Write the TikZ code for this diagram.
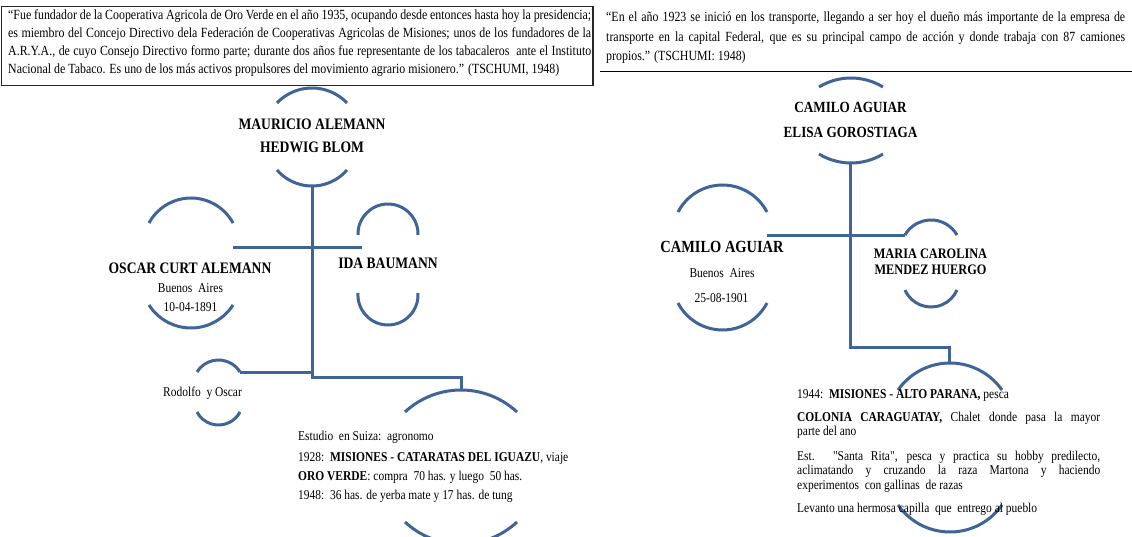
\documentclass[tikz,border=0pt]{standalone}
\usepackage{fontspec}
\setmainfont{Liberation Serif}[FakeStretch=0.85]
\definecolor{treeblue}{RGB}{62,100,152}
\tikzset{
  tree/.style={draw=treeblue, line width=3pt},
  arcline/.style={draw=treeblue, line width=3pt},
  boxline/.style={draw=black!85, line width=1.3pt},
  qt/.style={anchor=base west, inner sep=0pt, font=\fontsize{14}{16}\selectfont},
  bt/.style={anchor=base west, inner sep=0pt, font=\fontsize{13.5}{15}\selectfont},
  sm/.style={anchor=base, inner sep=0pt, font=\fontsize{13.5}{15}\selectfont},
  nm/.style={anchor=base, inner sep=0pt, font=\bfseries\fontsize{16}{18}\selectfont},
}
\newcommand{\rkup}[4]{%
  \pgfmathsetmacro{\rkw}{(#2-#1)/2}%
  \pgfmathsetmacro{\rkh}{#3-#4}%
  \pgfmathsetmacro{\rkr}{(\rkw*\rkw+\rkh*\rkh)/(2*\rkh)}%
  \pgfmathsetmacro{\rka}{2*atan(\rkh/\rkw)}%
  \draw[arcline] (#1,#3) arc[start angle={270-\rka}, end angle={270+\rka}, radius=\rkr];}
\newcommand{\rkdown}[4]{%
  \pgfmathsetmacro{\rkw}{(#2-#1)/2}%
  \pgfmathsetmacro{\rkh}{#4-#3}%
  \pgfmathsetmacro{\rkr}{(\rkw*\rkw+\rkh*\rkh)/(2*\rkh)}%
  \pgfmathsetmacro{\rka}{2*atan(\rkh/\rkw)}%
  \draw[arcline] (#1,#3) arc[start angle={90+\rka}, end angle={90-\rka}, radius=\rkr];}
\newcommand{\sq}[1]{{\addfontfeatures{Ligatures=TeXOff}"#1"}}
\begin{document}
\begin{tikzpicture}[x=1pt,y=1pt,yscale=-1]
\useasboundingbox (0,0) rectangle (1132,537);
\fill[white] (0,0) rectangle (1132,537);
\clip (0,0) rectangle (1132,537);

% ---------- quotes ----------
\draw[boxline] (1.5,6.5) rectangle (593,85.5);
\node[qt] (q1) at (8,19.5) {\makebox[583pt][s]{“Fue fundador de la Cooperativa Agricola de Oro Verde en el año 1935, ocupando desde entonces hasta hoy la presidencia;}};
\node[qt] (q2) at (8,37.5) {\makebox[583pt][s]{es miembro del Concejo Directivo dela Federación de Cooperativas Agricolas de Misiones; unos de los fundadores de la}};
\node[qt] (q3) at (8,55.5) {\makebox[583pt][s]{A.R.Y.A., de cuyo Consejo Directivo formo parte; durante dos años fue representante de los tabacaleros\ \ ante el Instituto}};
\node[qt] (q4) at (8,73.5) {Nacional de Tabaco. Es uno de los más activos propulsores del movimiento agrario misionero.” (TSCHUMI, 1948)};

\draw[black, line width=1.3pt] (600,71.5) -- (1132,71.5);
\node[qt] (p1) at (606,21.5) {\makebox[519pt][s]{“En el año 1923 se inició en los transporte, llegando a ser hoy el dueño más importante de la empresa de}};
\node[qt] (p2) at (606,41.5) {\makebox[519pt][s]{transporte en la capital Federal, que es su principal campo de acción y donde trabaja con 87 camiones}};
\node[qt] (p3) at (606,61) {propios.” (TSCHUMI: 1948)};

% ---------- arcs ----------
\rkup{277}{347}{103}{88}   \rkdown{277}{347}{170}{186}
\rkup{149}{233}{223}{198}  \rkdown{149}{233}{305}{328}
\rkup{358}{418}{235}{204}  \rkdown{358}{418}{293}{325}
\rkup{197}{240}{372}{360}  \rkdown{197}{240}{412}{425}
\rkup{405}{517}{412}{390}  \rkdown{405}{517}{522}{544}
\rkup{819}{883}{87}{78}    \rkdown{819}{883}{154}{163}
\rkup{678}{767}{212}{185}  \rkdown{678}{767}{303}{330}
\rkup{905}{957}{235}{220}  \rkdown{905}{957}{290}{307}
\rkup{898}{1002}{390}{363} \rkdown{898}{1002}{505}{532}

% ---------- left tree ----------
\coordinate (mB) at (312,186);
\coordinate (lK) at (312,372);
\coordinate (lJ) at (312,377);
\coordinate (rA) at (240,372);
\coordinate (eT) at (461.5,377);
\coordinate (eA) at (461.5,390);
\coordinate (cL) at (233,248);
\coordinate (cR) at (362,248);
\draw[tree] (mB) -- (lJ) -- (eT) -- (eA);
\draw[tree] (rA) -- (lK);
\draw[tree] (cL) -- (cR);

\node[nm] (m1) at (312,130) {MAURICIO ALEMANN};
\node[nm] (m2) at (312,153) {HEDWIG BLOM};
\node[nm] (o1) at (190,273) {OSCAR CURT ALEMANN};
\node[sm] (o2) at (190.5,293) {Buenos\ \ Aires};
\node[sm] (o3) at (190.5,312) {10-04-1891};
\node[nm] (i1) at (388,269) {IDA BAUMANN};
\node[bt] (r1) at (163,396) {Rodolfo\ \ y Oscar};
\node[bt] (e1) at (298,440) {Estudio\ \ en Suiza:\ \ agronomo};
\node[bt] (e2) at (298,461) {1928:\ \ \textbf{MISIONES - CATARATAS DEL IGUAZU}, viaje};
\node[bt] (e3) at (298,480) {\textbf{ORO VERDE}: compra\ \ 70 has. y luego\ \ 50 has.};
\node[bt] (e4) at (298,499) {1948:\ \ 36 has. de yerba mate y 17 has. de tung};

% ---------- right tree ----------
\coordinate (cB) at (850.5,163);
\coordinate (rJ) at (850.5,347);
\coordinate (rT) at (949,347);
\coordinate (rE) at (949,363);
\coordinate (hL) at (767,236);
\coordinate (hR) at (905,236);
\draw[tree] (cB) -- (rJ) -- (rT) -- (rE);
\draw[tree] (hL) -- (hR);

\node[nm, font=\bfseries\fontsize{15.5}{18}\selectfont] (a1) at (850.5,113) {CAMILO AGUIAR};
\node[nm, font=\bfseries\fontsize{15.5}{18}\selectfont] (a2) at (850.5,138) {ELISA GOROSTIAGA};
\node[nm, font=\bfseries\fontsize{17}{18}\selectfont] (c1) at (722,253) {CAMILO AGUIAR};
\node[sm] (c2) at (722,278) {Buenos\ \ Aires};
\node[sm] (c3) at (721.5,302) {25-08-1901};
\node[nm, font=\bfseries\fontsize{14.5}{16}\selectfont] (k1) at (930.5,259) {MARIA CAROLINA};
\node[nm, font=\bfseries\fontsize{14.5}{16}\selectfont] (k2) at (930.5,275) {MENDEZ HUERGO};

\node[bt] (t1) at (797,398) {1944:\ \ \textbf{MISIONES - ALTO PARANA,} pesca};
\node[bt] (t2) at (797,421) {\makebox[303pt][s]{\textbf{COLONIA CARAGUATAY,} Chalet donde pasa la mayor}};
\node[bt] (t3) at (797,435) {parte del ano};
\node[bt] (t4) at (797,460) {\makebox[303pt][s]{Est. \sq{Santa Rita}, pesca y practica su hobby predilecto,}};
\node[bt] (t5) at (797,474) {\makebox[303pt][s]{aclimatando y cruzando la raza Martona y haciendo}};
\node[bt] (t6) at (797,489) {experimentos\ \ con gallinas\ \ de razas};
\node[bt] (t7) at (797,512) {Levanto una hermosa capilla\ \ que\ \ entrego al pueblo};
\end{tikzpicture}
\end{document}
